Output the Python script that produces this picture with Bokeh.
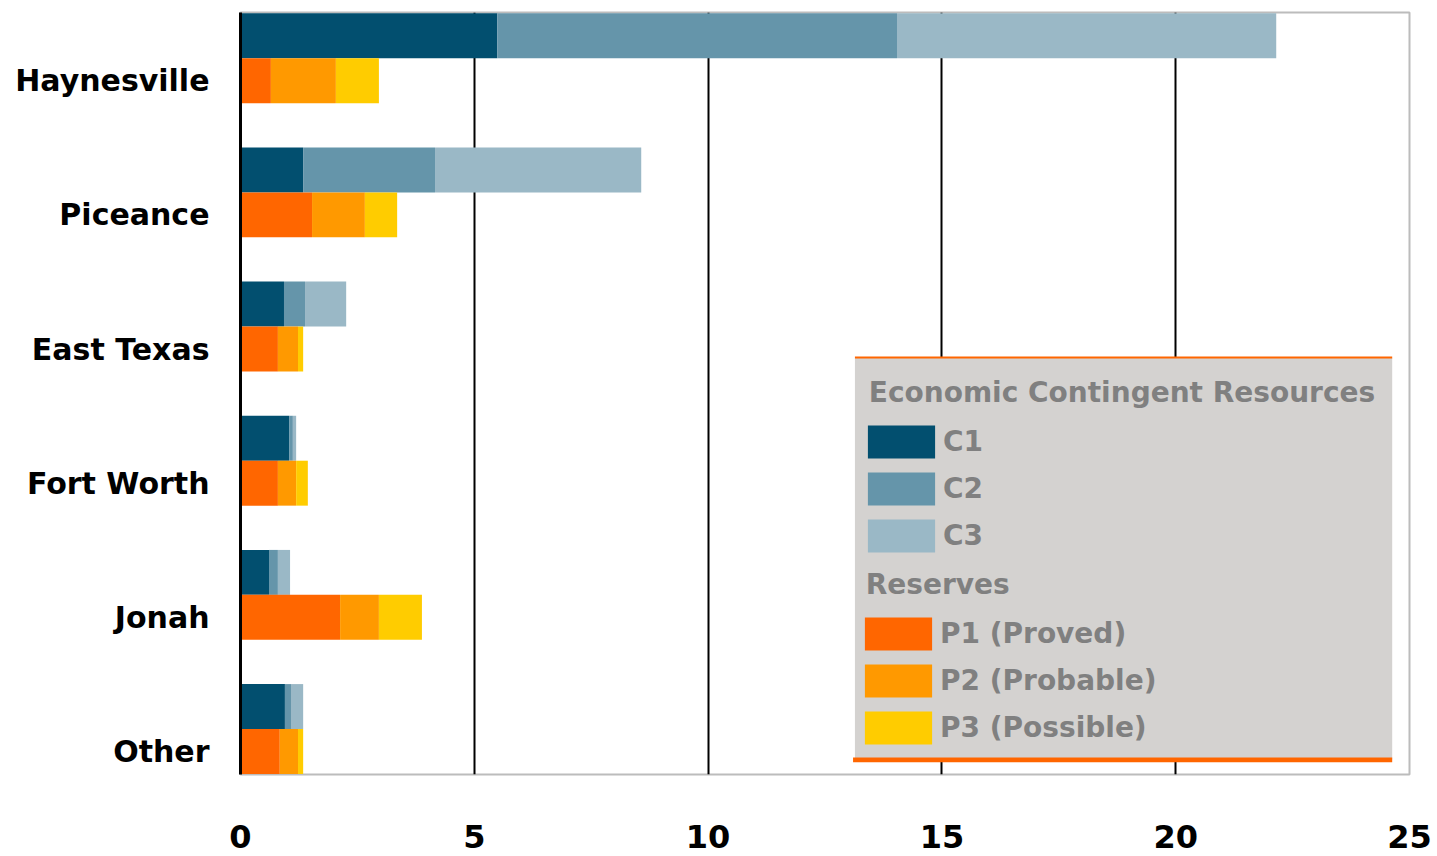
from bokeh.plotting import figure
from bokeh.models import (Range1d, FixedTicker, Legend, LegendItem, BoxAnnotation,
                          ColumnDataSource)
from bokeh.embed import file_html
from bokeh.resources import INLINE

# ---- data ----
basins = ["Haynesville", "Piceance", "East Texas", "Fort Worth", "Jonah", "Other"]
c1 = [5.49, 1.34, 0.93, 1.04, 0.61, 0.95]
c2 = [8.55, 2.82, 0.45, 0.08, 0.19, 0.13]
c3 = [8.11, 4.41, 0.88, 0.07, 0.26, 0.26]
p1 = [0.65, 1.53, 0.80, 0.80, 2.13, 0.84]
p2 = [1.39, 1.13, 0.43, 0.39, 0.83, 0.39]
p3 = [0.92, 0.69, 0.11, 0.25, 0.92, 0.11]
x_ticks = [0, 5, 10, 15, 20, 25]
c_labels = ["C1", "C2", "C3"]
p_labels = ["P1 (Proved)", "P2 (Probable)", "P3 (Possible)"]
c_title = "Economic Contingent Resources"
p_title = "Reserves"

# ---- styles ----
C_COLORS = ["#024f6f", "#6595aa", "#9ab8c6"]
P_COLORS = ["#ff6600", "#ff9900", "#ffcc00"]
BAR_H = 0.335
FONT = "DejaVu Sans"
LEG_GREY = "#808080"

n = len(basins)
ypos = [n - 1 - i for i in range(n)]
src = ColumnDataSource(dict(
    yp=ypos,
    yc=[y + BAR_H for y in ypos],
    C1=c1, C2=c2, C3=c3,
    P1=p1, P2=p2, P3=p3,
))

p = figure(width=1432, height=856, output_backend="svg", toolbar_location=None,
           x_range=Range1d(x_ticks[0], x_ticks[-1]),
           y_range=Range1d(-BAR_H / 2 - 0.004, (n - 1) + 1.5 * BAR_H + 0.006),
           min_border_left=240, min_border_right=23, min_border_top=12,
           min_border_bottom=82)

c_r = p.hbar_stack(["C1", "C2", "C3"], y="yc", height=BAR_H, fill_color=C_COLORS,
                   line_color=None, source=src)
p_r = p.hbar_stack(["P1", "P2", "P3"], y="yp", height=BAR_H, fill_color=P_COLORS,
                   line_color=None, source=src)

# axes
p.xaxis.ticker = FixedTicker(ticks=x_ticks)
p.xaxis.axis_line_color = None
p.xaxis.major_tick_line_color = None
p.xaxis.minor_tick_line_color = None
p.xaxis.major_label_text_font = FONT
p.xaxis.major_label_text_font_style = "bold"
p.xaxis.major_label_text_font_size = "32px"
p.xaxis.major_label_text_color = "black"
p.xaxis.major_label_standoff = 44

p.yaxis.ticker = FixedTicker(ticks=ypos)
p.yaxis.major_label_overrides = {y: b for y, b in zip(ypos, basins)}
p.yaxis.axis_line_color = "black"
p.yaxis.axis_line_width = 3
p.yaxis.major_tick_line_color = None
p.yaxis.minor_tick_line_color = None
p.yaxis.major_label_text_font = FONT
p.yaxis.major_label_text_font_style = "bold"
p.yaxis.major_label_text_font_size = "30px"
p.yaxis.major_label_text_color = "black"
p.yaxis.major_label_standoff = 25

p.xgrid.ticker = FixedTicker(ticks=x_ticks[1:-1])
p.xgrid.grid_line_color = "black"
p.xgrid.grid_line_width = 2
p.ygrid.grid_line_color = None

p.outline_line_color = "#bcbcbc"
p.outline_line_width = 2
p.background_fill_color = "white"
p.border_fill_color = "white"

# legend panel (grey box with orange rules)
box = BoxAnnotation(left=13.14, right=24.63, top=2.935, bottom=-0.06,
                    fill_color="#d4d2d0", fill_alpha=1.0, line_color=None)
top_rule = BoxAnnotation(left=13.14, right=24.63, top=2.945, bottom=2.93,
                         fill_color="#ff6600", fill_alpha=1.0, line_color=None)
bot_rule = BoxAnnotation(left=13.10, right=24.63, top=-0.045, bottom=-0.08,
                         fill_color="#ff6600", fill_alpha=1.0, line_color=None)
p.add_layout(box)
p.add_layout(top_rule)
p.add_layout(bot_rule)


def make_legend(title, labels, rends, loc):
    lg = Legend(items=[LegendItem(label=l, renderers=[r]) for l, r in zip(labels, rends)],
                location=loc, title=" " + title)
    lg.title_text_font = FONT
    lg.title_text_font_style = "bold"
    lg.title_text_font_size = "28px"
    lg.title_text_color = LEG_GREY
    lg.title_standoff = 12
    lg.label_text_font = FONT
    lg.label_text_font_style = "bold"
    lg.label_text_font_size = "28px"
    lg.label_text_color = LEG_GREY
    lg.label_standoff = 0
    lg.glyph_width = 84
    lg.glyph_height = 41
    lg.label_height = 33
    lg.spacing = 6
    lg.padding = 0
    lg.margin = 0
    lg.background_fill_alpha = 0
    lg.border_line_color = None
    return lg


p.add_layout(make_legend(c_title, c_labels, c_r, (619, 218)), "center")
p.add_layout(make_legend(p_title, p_labels, p_r, (616, 26)), "center")

open("out.html", "w").write(file_html(p, INLINE))
